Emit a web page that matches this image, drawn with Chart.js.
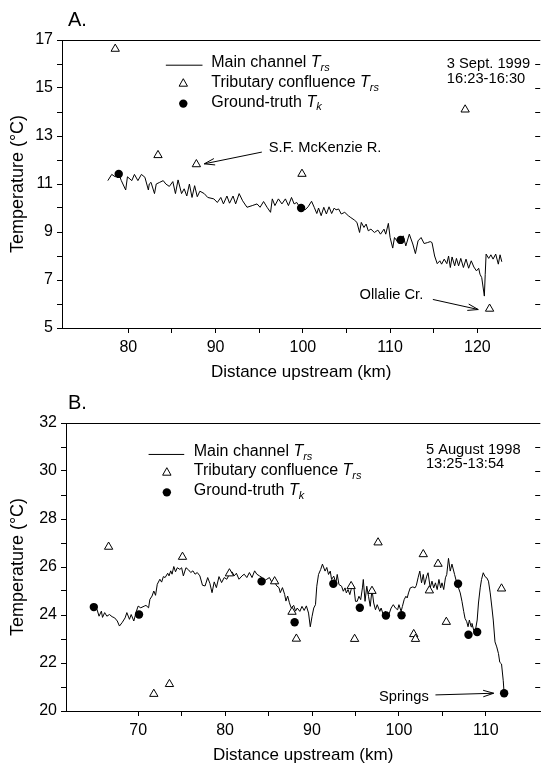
<!DOCTYPE html>
<html>
<head>
<meta charset="utf-8">
<script src="https://cdn.jsdelivr.net/npm/chart.js@4.4.0/dist/chart.umd.min.js"></script>
<style>
  body { margin: 0; background: #fff; }
  canvas { display: block; }
</style>
</head>
<body>
<canvas id="chartA" width="546" height="383"></canvas>
<canvas id="chartB" width="546" height="383"></canvas>
<script>
const FONT = '"Liberation Sans", Arial, sans-serif';

// ---- Panel A: 3 Sept. 1999 ----
const distA = [77.65, 78.1, 78.5, 78.9, 79.2, 79.7, 79.9, 80.4, 80.7, 81.1, 81.5, 81.9, 82.3, 82.4, 82.6, 83.0, 83.2, 83.6, 84.0, 84.3,
  84.7, 85.1, 85.4, 85.7, 86.1, 86.4, 86.7, 87.0, 87.3, 87.6, 87.9, 88.2, 88.7, 89.1, 89.8, 90.2, 90.6, 90.9, 91.3, 91.6,
  92.0, 92.3, 92.7, 93.1, 93.6, 94.2, 94.75, 95.1, 95.5, 95.9, 96.3, 96.5, 96.8, 97.2, 97.6, 98.0, 98.35, 98.7, 99.0, 99.3,
  99.7, 100.05, 100.25, 100.6, 101.0, 101.3, 101.6, 101.8, 102.1, 102.4, 102.7, 103.0, 103.3, 103.6, 103.8, 104.1, 104.4, 104.8, 105.2, 105.5,
  105.9, 106.2, 106.5, 106.7, 107.0, 107.25, 107.5, 107.8, 108.2, 108.6, 108.9, 109.3, 109.5, 109.8, 110.0, 110.3, 110.5, 110.85, 111.2, 111.5,
  111.8, 112.2, 112.6, 112.9, 113.2, 113.55, 113.9, 114.3, 114.6, 114.8, 115.1, 115.4, 115.7, 115.9, 116.2, 116.5, 116.7, 116.9, 117.1, 117.4,
  117.6, 117.85, 118.1, 118.4, 118.7, 119.0, 119.3, 119.6, 119.9, 120.15, 120.3, 120.5, 120.8, 120.9, 121.0, 121.3, 121.55, 121.8, 122.1, 122.4,
  122.6, 122.8];
const tempA = [11.14, 11.4, 11.3, 11.42, 11.14, 10.75, 11.3, 11.14, 11.4, 11.14, 11.4, 11.28, 10.75, 11.0, 11.07, 10.6, 11.0, 11.07, 11.14, 11.0,
  10.9, 11.1, 10.6, 11.17, 10.6, 10.8, 10.5, 11.0, 10.44, 10.93, 10.47, 10.7, 10.6, 10.44, 10.38, 10.23, 10.44, 10.17, 10.5, 10.2,
  10.5, 10.17, 10.6, 10.3, 10.03, 10.1, 10.17, 10.03, 10.27, 10.03, 9.82, 10.38, 10.1, 10.38, 10.17, 10.38, 10.1, 10.44, 10.17, 10.23,
  10.0, 10.0, 9.92, 10.05, 10.28, 10.03, 9.77, 10.0, 9.68, 10.03, 9.75, 10.05, 9.77, 10.0, 9.92, 9.96, 9.75, 9.82, 9.68, 9.6,
  9.5, 9.4, 8.98, 9.4, 9.19, 9.33, 9.05, 9.12, 8.98, 9.08, 8.91, 9.12, 8.91, 9.36, 8.77, 8.33, 8.77, 8.6, 8.67, 8.84,
  8.42, 8.91, 8.5, 8.1, 8.63, 8.77, 8.52, 8.56, 8.6, 8.56, 8.0, 7.68, 7.8, 7.66, 7.87, 7.68, 8.0, 7.52, 7.96, 7.59,
  7.9, 7.59, 7.9, 7.52, 7.87, 7.49, 7.8, 7.54, 7.38, 7.49, 7.24, 7.1, 6.33, 7.24, 8.08, 7.9, 8.05, 7.87, 8.08, 7.66,
  8.05, 7.76];
const tribDistA = [78.5, 83.4, 87.8, 99.9, 118.6, 121.4];
const tribTempA = [16.63, 12.2, 11.82, 11.42, 14.1, 5.8];
const truthDistA = [78.9, 99.8, 111.2];
const truthTempA = [11.42, 10.0, 8.67];

// ---- Panel B: 5 August 1998 ----
const distB = [65.0, 65.27, 65.5, 65.77, 65.9, 66.15, 66.4, 66.7, 67.0, 67.3, 67.6, 67.85, 68.15, 68.5, 68.7, 69.0, 69.2, 69.5, 69.8, 70.0,
  70.3, 70.7, 70.9, 71.2, 71.35, 71.6, 71.8, 72.0, 72.2, 72.5, 72.7, 72.9, 73.1, 73.4, 73.55, 73.75, 73.9, 74.1, 74.3, 74.5,
  74.8, 75.0, 75.2, 75.5, 75.8, 76.05, 76.3, 76.55, 76.8, 77.1, 77.4, 77.7, 78.0, 78.25, 78.5, 78.75, 79.0, 79.3, 79.6, 79.9,
  80.2, 80.5, 80.8, 81.05, 81.3, 81.6, 81.95, 82.2, 82.5, 82.8, 83.1, 83.4, 83.65, 83.95, 84.25, 84.5, 84.8, 85.1, 85.4, 85.7,
  85.95, 86.2, 86.35, 86.6, 86.85, 87.0, 87.2, 87.4, 87.6, 87.9, 88.1, 88.3, 88.6, 88.85, 89.1, 89.35, 89.6, 89.8, 90.0, 90.2,
  90.4, 90.55, 90.75, 91.0, 91.2, 91.5, 91.7, 91.9, 92.1, 92.25, 92.5, 92.75, 92.9, 93.1, 93.4, 93.6, 93.8, 93.95, 94.15, 94.35,
  94.5, 94.8, 95.0, 95.2, 95.4, 95.6, 95.8, 95.9, 96.1, 96.3, 96.5, 96.7, 96.9, 97.1, 97.3, 97.5, 97.8, 97.95, 98.2, 98.45,
  98.7, 98.9, 99.1, 99.35, 99.6, 99.85, 100.0, 100.25, 100.4, 100.6, 100.8, 100.95, 101.1, 101.3, 101.6, 101.85, 102.0, 102.2, 102.4, 102.6,
  102.8, 102.95, 103.2, 103.35, 103.6, 103.8, 104.0, 104.2, 104.4, 104.6, 104.8, 104.95, 105.15, 105.35, 105.5, 105.7, 105.9, 106.1, 106.4, 106.65,
  106.85, 107.05, 107.25, 107.45, 107.6, 107.8, 107.95, 108.1, 108.3, 108.4, 108.6, 108.8, 109.0, 109.15, 109.35, 109.5, 109.7, 109.9, 110.1, 110.3,
  110.5, 110.7, 110.85, 111.05, 111.25, 111.45, 111.6, 111.8, 112.0, 112.1];
const tempB = [24.33, 24.23, 23.95, 24.16, 23.9, 24.1, 23.95, 24.02, 23.93, 23.88, 23.75, 23.54, 23.68, 23.88, 24.1, 23.82, 24.02, 23.75, 24.16, 24.37,
  24.3, 24.37, 24.4, 24.3, 24.65, 24.79, 25.0, 24.82, 25.28, 25.49, 25.37, 25.6, 25.56, 25.74, 25.63, 25.84, 25.7, 26.02, 25.8, 25.97,
  25.9, 25.97, 25.63, 25.97, 25.88, 25.77, 25.84, 25.7, 25.77, 25.63, 25.24, 25.21, 25.56, 25.32, 24.93, 25.38, 25.14, 25.6, 25.35, 25.56,
  25.49, 25.7, 25.8, 25.63, 25.74, 25.49, 25.63, 25.7, 25.56, 25.77, 25.56, 25.84, 25.7, 25.63, 25.56, 25.42, 25.49, 25.56, 25.35, 25.37,
  25.21, 25.14, 24.93, 25.14, 24.86, 24.58, 24.79, 24.51, 24.3, 24.4, 24.16, 24.29, 24.15, 24.36, 24.19, 24.38, 24.08, 23.51, 23.93, 24.29,
  24.43, 25.2, 25.69, 25.9, 26.12, 25.83, 25.98, 25.69, 25.83, 25.48, 25.62, 25.34, 25.69, 25.27, 25.2, 24.99, 25.13, 24.92, 25.06, 24.85,
  25.06, 25.2, 24.57, 24.57, 24.78, 24.64, 25.13, 25.48, 24.57, 25.2, 24.78, 24.36, 25.06, 24.5, 24.22, 24.43, 24.15, 24.29, 24.01, 24.15,
  23.86, 24.08, 24.29, 24.43, 24.29, 24.22, 24.43, 24.15, 24.36, 24.64, 24.78, 24.71, 24.92, 25.13, 25.17, 25.13, 25.23, 25.55, 25.83, 25.34,
  25.69, 25.27, 25.62, 25.76, 25.13, 25.41, 25.13, 25.34, 25.06, 25.48, 25.13, 25.34, 25.06, 25.55, 25.69, 26.36, 25.83, 26.12, 25.69, 25.34,
  25.13, 24.92, 24.57, 24.15, 23.86, 23.72, 23.51, 23.79, 23.51, 23.65, 23.37, 23.37, 23.79, 24.5, 25.13, 25.48, 25.76, 25.6, 25.55, 25.41,
  24.92, 24.29, 23.79, 22.88, 22.67, 22.39, 22.03, 21.96, 21.26, 20.74];
const tribDistB = [66.6, 71.8, 73.6, 75.1, 80.5, 85.7, 87.7, 88.2, 94.5, 94.9, 96.9, 97.6, 101.7, 101.9, 102.8, 103.5, 104.5, 105.45, 111.8];
const tribTempB = [26.84, 20.71, 21.12, 26.42, 25.73, 25.4, 24.13, 23.01, 25.2, 23.0, 25.0, 27.02, 23.2, 23.0, 26.53, 25.02, 26.13, 23.71, 25.1];
const truthDistB = [64.9, 70.1, 84.2, 88.0, 92.45, 95.5, 98.5, 100.3, 106.8, 108.0, 109.0, 112.1];
const truthTempB = [24.33, 24.02, 25.4, 23.7, 25.3, 24.3, 23.98, 23.99, 25.3, 23.18, 23.29, 20.74];

const pts = (xs, ys) => xs.map((x, i) => ({ x: x, y: ys[i] }));

function richText(ctx, x, y, parts, size) {
  let cx = x;
  parts.forEach(([txt, style]) => {
    if (style === 's') {
      ctx.font = 'italic ' + Math.round(size * 0.7) + 'px ' + FONT;
      ctx.fillText(txt, cx, y + size * 0.3);
    } else {
      ctx.font = (style === 'i' ? 'italic ' : '') + size + 'px ' + FONT;
      ctx.fillText(txt, cx, y);
    }
    cx += ctx.measureText(txt).width;
  });
}

function arrow(ctx, x1, y1, x2, y2) {
  const ang = Math.atan2(y2 - y1, x2 - x1);
  ctx.beginPath();
  ctx.moveTo(x1, y1);
  ctx.lineTo(x2, y2);
  ctx.moveTo(x2 - 11 * Math.cos(ang - 0.3), y2 - 11 * Math.sin(ang - 0.3));
  ctx.lineTo(x2, y2);
  ctx.lineTo(x2 - 11 * Math.cos(ang + 0.3), y2 - 11 * Math.sin(ang + 0.3));
  ctx.stroke();
}

// frame, right-side ticks, legend and labels
const notesPlugin = {
  id: 'notes',
  afterDraw(chart, args, o) {
    const { ctx, chartArea: a, scales: { x, y } } = chart;
    const X = v => x.getPixelForValue(v);
    const Y = v => y.getPixelForValue(v);
    ctx.save();
    ctx.strokeStyle = '#000';
    ctx.fillStyle = '#000';
    ctx.lineWidth = 1;
    ctx.beginPath();
    ctx.moveTo(a.left, a.top + 0.5);
    ctx.lineTo(a.right, a.top + 0.5);
    ctx.stroke();
    y.ticks.forEach(t => {
      const py = Math.round(Y(t.value)) + 0.5;
      ctx.beginPath();
      ctx.moveTo(a.right - 5, py);
      ctx.lineTo(a.right, py);
      ctx.stroke();
    });

    ctx.textBaseline = 'middle';
    ctx.textAlign = 'left';
    ctx.font = '20px ' + FONT;
    ctx.fillText(o.letter, 68, 20);

    // legend
    const L = o.legend;
    ctx.beginPath();
    ctx.moveTo(X(L.line[0]), Y(L.line[2]));
    ctx.lineTo(X(L.line[1]), Y(L.line[2]));
    ctx.stroke();
    const tx = X(L.mark), ty = Y(L.marks[0]);
    ctx.beginPath();
    ctx.moveTo(tx, ty - 4.5);
    ctx.lineTo(tx + 4.2, ty + 3);
    ctx.lineTo(tx - 4.2, ty + 3);
    ctx.closePath();
    ctx.stroke();
    ctx.beginPath();
    ctx.arc(X(L.mark), Y(L.marks[1]), 4.2, 0, Math.PI * 2);
    ctx.fill();
    const rows = [
      [['Main channel ', 'n'], ['T', 'i'], ['rs', 's']],
      [['Tributary confluence ', 'n'], ['T', 'i'], ['rs', 's']],
      [['Ground-truth ', 'n'], ['T', 'i'], ['k', 's']]
    ];
    rows.forEach((r, i) => richText(ctx, X(L.text), Y(L.rows[i]), r, 16));

    // date and site labels
    ctx.font = '14.7px ' + FONT;
    o.labels.forEach(l => ctx.fillText(l.text, X(l.x), Y(l.y)));
    o.arrows.forEach(p => arrow(ctx, X(p[0]), Y(p[1]), X(p[2]), Y(p[3])));
    ctx.restore();
  }
};

function makeChart(id, d, s) {
  return new Chart(document.getElementById(id), {
    type: 'scatter',
    data: {
      datasets: [
        { data: d.truth, pointStyle: 'circle', pointRadius: 4.2, backgroundColor: '#000', borderColor: '#000', borderWidth: 0 },
        { data: d.trib, pointStyle: 'triangle', pointRadius: 4.8, backgroundColor: '#fff', borderColor: '#000', borderWidth: 1 },
        { data: d.line, showLine: true, pointRadius: 0, borderColor: '#000', borderWidth: 1, tension: 0 }
      ]
    },
    options: {
      responsive: false,
      animation: false,
      layout: { padding: { top: 40, right: 0, left: 0, bottom: 0 } },
      plugins: { legend: { display: false }, tooltip: { enabled: false }, notes: s.notes },
      scales: {
        x: {
          type: 'linear', min: s.xMin, max: s.xMax,
          afterBuildTicks: sc => { sc.ticks = sc.ticks.filter(t => Math.abs(t.value % 5) < 1e-6); },
          afterFit: sc => { sc.height = 55; },
          ticks: { stepSize: 5, autoSkip: false, maxRotation: 0, padding: 5, color: '#000',
            font: { family: FONT, size: 16 },
            callback: v => (v % 10 === 0 ? v : '') },
          grid: { drawOnChartArea: false, tickLength: 5, color: '#000' },
          border: { color: '#000', width: 1 },
          title: { display: true, text: 'Distance upstream (km)', color: '#000', padding: 0,
            font: { family: FONT, size: 17 } }
        },
        y: {
          min: s.yMin, max: s.yMax,
          afterFit: sc => { sc.width = s.yWidth; },
          ticks: { stepSize: 1, autoSkip: false, padding: 4, color: '#000',
            font: { family: FONT, size: 16 },
            callback: v => ((v - s.yMin) % 2 === 0 ? v : '') },
          grid: { drawOnChartArea: false, tickLength: 5, color: '#000' },
          border: { color: '#000', width: 1 },
          title: { display: true, text: 'Temperature (°C)', color: '#000', padding: { top: 7, bottom: 0 },
            font: { family: FONT, size: 18 } }
        }
      }
    },
    plugins: [notesPlugin]
  });
}

makeChart('chartA',
  { line: pts(distA, tempA), trib: pts(tribDistA, tribTempA), truth: pts(truthDistA, truthTempA) },
  { xMin: 72.4, xMax: 127.2, yMin: 5, yMax: 17, yWidth: 62,
    notes: {
      letter: 'A.',
      legend: { line: [84.3, 88.5, 15.95], mark: 86.3, marks: [15.2, 14.35], text: 89.5, rows: [16.05, 15.22, 14.4] },
      labels: [
        { text: '3 Sept. 1999', x: 116.5, y: 16.0 },
        { text: '16:23-16:30', x: 116.5, y: 15.36 },
        { text: 'S.F. McKenzie R.', x: 96.1, y: 12.5 },
        { text: 'Ollalie Cr.', x: 106.5, y: 6.37 }
      ],
      arrows: [[95.3, 12.33, 88.7, 11.84], [114.9, 6.19, 120.1, 5.77]]
    } });

makeChart('chartB',
  { line: pts(distB, tempB), trib: pts(tribDistB, tribTempB), truth: pts(truthDistB, truthTempB) },
  { xMin: 61.7, xMax: 116.25, yMin: 20, yMax: 32, yWidth: 66,
    notes: {
      letter: 'B.',
      legend: { line: [71.2, 75.3, 30.69], mark: 73.3, marks: [29.95, 29.11], text: 76.4, rows: [30.8, 30.0, 29.18] },
      labels: [
        { text: '5 August 1998', x: 103.1, y: 30.88 },
        { text: '13:25-13:54', x: 103.1, y: 30.3 },
        { text: 'Springs', x: 97.7, y: 20.6 }
      ],
      arrows: [[104.2, 20.67, 110.9, 20.74]]
    } });
</script>
</body>
</html>
